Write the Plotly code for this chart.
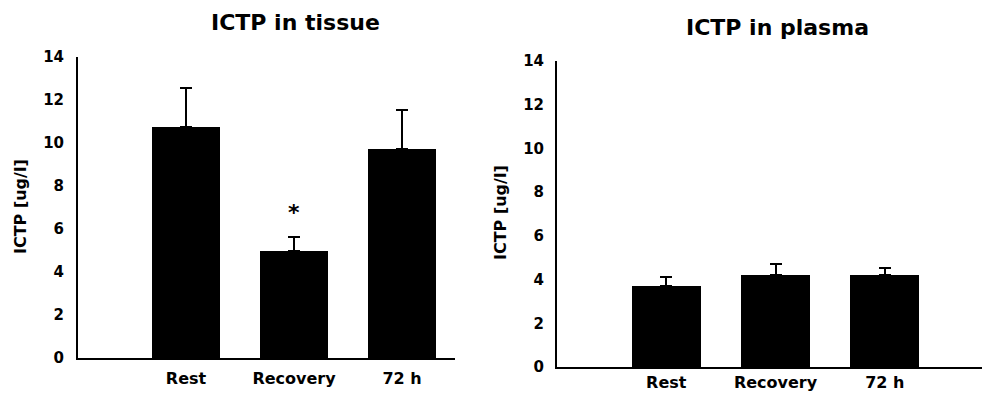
import plotly.graph_objects as go

categories = ["Rest", "Recovery", "72 h"]
cat_pos = [1, 2, 3]
tissue_mean = [10.74, 4.98, 9.72]
tissue_err = [1.82, 0.65, 1.81]
plasma_mean = [3.71, 4.21, 4.19]
plasma_err = [0.41, 0.50, 0.34]
y_ticks = [0, 2, 4, 6, 8, 10, 12, 14]
titles = ["ICTP in tissue", "ICTP in plasma"]
y_title = "ICTP [ug/l]"
sig_marker = "*"
sig_index = 1
sig_y = 6.75

W, H = 982, 395
FONT = "DejaVu Sans"

def px_x(p):
    return p / W

def px_y(p):
    return (H - p) / H

fig = go.Figure()

fig.add_trace(go.Bar(
    x=cat_pos, y=tissue_mean, width=0.63,
    marker=dict(color="black", line=dict(width=0)),
    error_y=dict(type="data", array=tissue_err, arrayminus=[0]*3, symmetric=False,
                 color="black", thickness=2, width=6),
    xaxis="x", yaxis="y", showlegend=False,
))
fig.add_trace(go.Bar(
    x=cat_pos, y=plasma_mean, width=0.63,
    marker=dict(color="black", line=dict(width=0)),
    error_y=dict(type="data", array=plasma_err, arrayminus=[0]*3, symmetric=False,
                 color="black", thickness=2, width=6),
    xaxis="x2", yaxis="y2", showlegend=False,
))

xcommon = dict(tickvals=cat_pos, ticktext=categories, showgrid=False, zeroline=False,
               showline=True, linecolor="black", linewidth=2, ticks="", automargin=False,
               tickfont=dict(family=FONT, size=16, color="black", weight="bold"))
ycommon = dict(range=[0, 14], tickvals=y_ticks, showgrid=False, zeroline=False,
               showline=True, linecolor="black", linewidth=2, ticks="", automargin=False,
               tickfont=dict(family=FONT, size=15, color="black", weight="bold"))

fig.update_layout(
    width=W, height=H,
    margin=dict(l=0, r=0, t=0, b=0, autoexpand=False),
    paper_bgcolor="white", plot_bgcolor="white",
    bargap=0,
    xaxis=dict(domain=[px_x(78), px_x(455)], range=[0, 3.49], anchor="y",
               ticklabelstandoff=5, **xcommon),
    yaxis=dict(domain=[px_y(358), px_y(57)], anchor="x", ticklabelstandoff=9, **ycommon),
    xaxis2=dict(domain=[px_x(557), 1.0], range=[0, 3.89], anchor="y2",
                ticklabelstandoff=0, **xcommon),
    yaxis2=dict(domain=[px_y(367), px_y(61)], anchor="x2", ticklabelstandoff=8, **ycommon),
)

ann = []
ann.append(dict(text=titles[0], x=px_x(295), y=px_y(23), xref="paper", yref="paper",
                showarrow=False, font=dict(family=FONT, size=22, color="black", weight="bold"),
                xanchor="center", yanchor="middle"))
ann.append(dict(text=titles[1], x=px_x(777), y=px_y(27), xref="paper", yref="paper",
                showarrow=False, font=dict(family=FONT, size=22, color="black", weight="bold"),
                xanchor="center", yanchor="middle"))
ann.append(dict(text=y_title, x=px_x(20), y=px_y(207), xref="paper", yref="paper",
                showarrow=False, textangle=-90,
                font=dict(family=FONT, size=16, color="black", weight="bold"),
                xanchor="center", yanchor="middle"))
ann.append(dict(text=y_title, x=px_x(500), y=px_y(213), xref="paper", yref="paper",
                showarrow=False, textangle=-90,
                font=dict(family=FONT, size=16, color="black", weight="bold"),
                xanchor="center", yanchor="middle"))
ann.append(dict(text=sig_marker, x=cat_pos[sig_index], y=sig_y, xref="x", yref="y",
                showarrow=False, font=dict(family=FONT, size=22, color="black", weight="bold"),
                xanchor="center", yanchor="middle"))
fig.update_layout(annotations=ann)

fig.write_html("out.html", config={"displayModeBar": False},
               post_script="document.body.style.margin='0';document.body.style.overflow='hidden';")
